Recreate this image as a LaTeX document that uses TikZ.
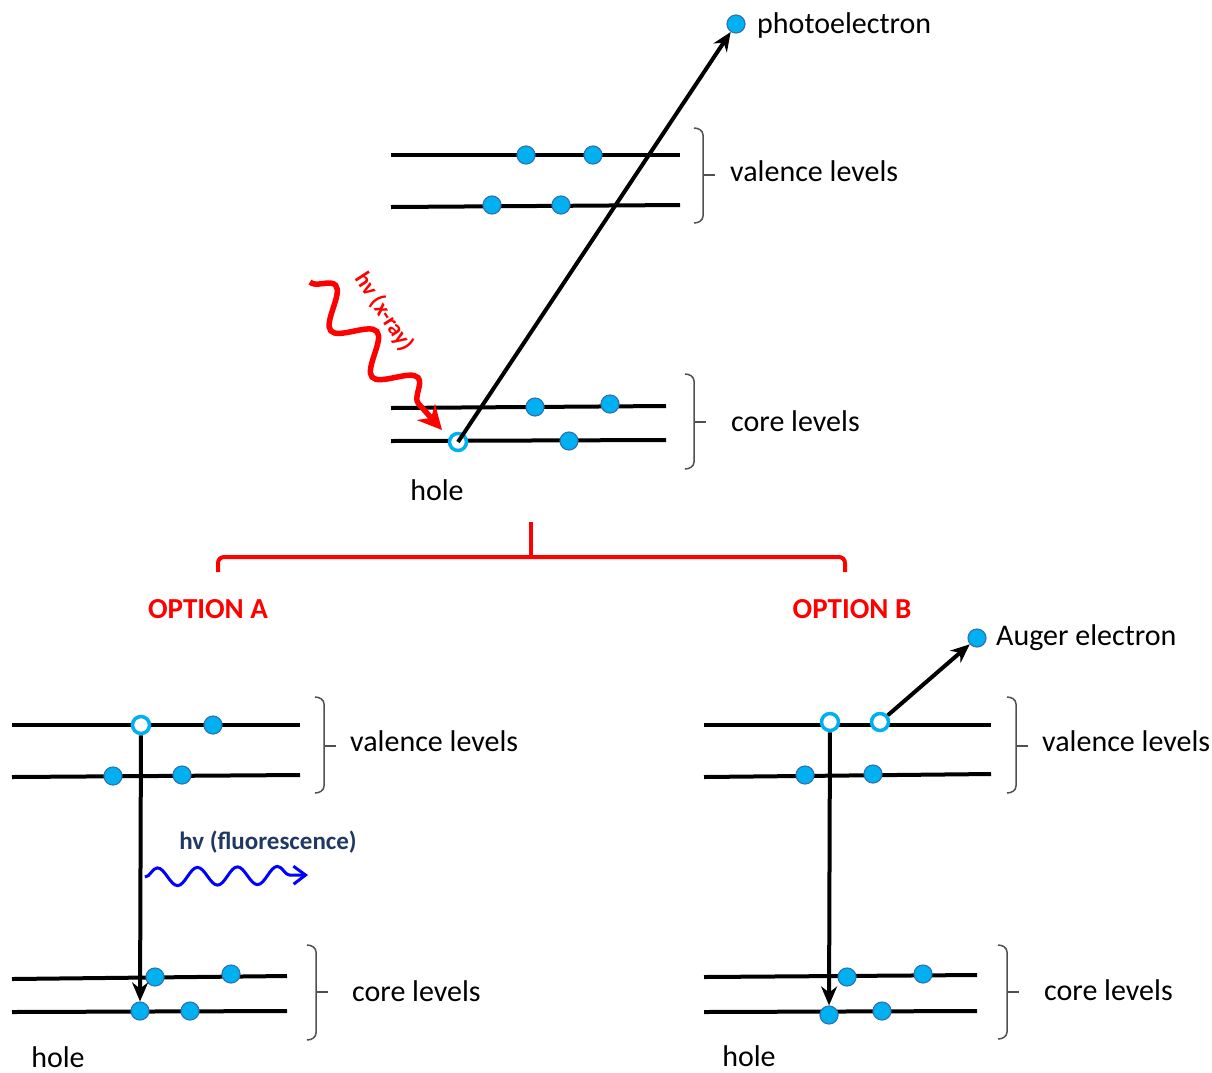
\documentclass[tikz,border=0pt]{standalone}
\usepackage{fontspec}
\setmainfont{Carlito}
\usetikzlibrary{arrows.meta,decorations.pathmorphing}
\definecolor{ecyan}{RGB}{0,176,240}
\definecolor{eedge}{RGB}{46,117,182}
\definecolor{navy}{RGB}{32,56,100}
\definecolor{fluoblue}{RGB}{0,0,255}
\definecolor{brkgray}{RGB}{80,80,80}
\tikzset{
  level/.style={line width=4pt},
  elec/.style={circle,fill=ecyan,draw=eedge,line width=1.2pt,minimum size=18pt,inner sep=0pt},
  holec/.style={circle,fill=white,draw=ecyan,line width=3.5pt,minimum size=17pt,inner sep=0pt},
  arr/.style={line width=4pt,-{Stealth[length=19pt,width=16pt]}},
  lbl/.style={font=\fontsize{30}{34}\selectfont,inner sep=0pt,anchor=west},
  brk/.style={line width=1.5pt,draw=brkgray},
  opt/.style={font=\fontsize{29}{33}\selectfont\bfseries,text=red,inner sep=0pt},
}
% bracket: x, top, mid, bottom
\newcommand\levelbrk[4]{%
  \draw[brk] (#1-9,#2) to[out=0,in=90] (#1,#2+7) -- (#1,#4-7) to[out=-90,in=0] (#1-9,#4);
  \draw[brk] (#1,#3) -- (#1+12,#3);}
\begin{document}
\begin{tikzpicture}[x=1pt,y=-1pt]
\useasboundingbox (0,0) rectangle (1212,1072);
% ---------- top diagram ----------
\draw[level] (391,155) coordinate (tv1a) -- (680,155) coordinate (tv1b);
\draw[level] (391,207) coordinate (tv2a) -- (680,205) coordinate (tv2b);
\draw[level] (391,408) coordinate (tc1a) -- (666,406) coordinate (tc1b);
\draw[level] (391,441) coordinate (tc2a) -- (666,440) coordinate (tc2b);
\node[elec] (te1) at (526,155) {};
\node[elec] (te2) at (593,155) {};
\node[elec] (te3) at (492,205) {};
\node[elec] (te4) at (561,205) {};
\node[elec] (te5) at (535,407) {};
\node[elec] (te6) at (610,404) {};
\node[elec] (te7) at (569,441) {};
\node[holec] (th) at (458,442) {};
\node[elec] (pe) at (736,24) {};
\draw[arr] (th.center) -- (pe);
\node[lbl] (pelbl) at (757,25) {photoelectron};
\levelbrk{703}{128}{175}{223}
\node[lbl] (tvlbl) at (730,171) {valence levels};
\levelbrk{694}{374}{422}{469}
\node[lbl] (tclbl) at (731,421) {core levels};
\node[lbl,anchor=base] (tholelbl) at (437,500) {hole};
% x-ray
\coordinate (xs) at (310,282);
\coordinate (xe) at (442,430);
\draw[red,line width=5.5pt,decorate,decoration={snake,segment length=62pt,amplitude=17pt,post length=24pt},-{Stealth[length=24pt,width=24pt]}] (xs) -- (xe);
\node[font=\fontsize{23}{27}\selectfont\bfseries,text=red,rotate=-57,inner sep=0pt] (xlbl) at (384,312) {hv (x-ray)};
% red bracket
\coordinate (bl) at (218,572); \coordinate (br) at (845,572); \coordinate (bm) at (531,522);
\draw[red,line width=4pt,rounded corners=6pt] (bl) -- (218,557) -- (845,557) -- (br);
\draw[red,line width=4pt] (bm) -- (531,557);
\node[opt] (optA) at (208,609) {OPTION A};
\node[opt] (optB) at (852,609) {OPTION B};
% ---------- option A ----------
\draw[level] (12,725) coordinate (av1a) -- (300,725) coordinate (av1b);
\draw[level] (12,777) coordinate (av2a) -- (300,775) coordinate (av2b);
\draw[level] (12,979) coordinate (ac1a) -- (287,976) coordinate (ac1b);
\draw[level] (12,1012) coordinate (ac2a) -- (287,1011) coordinate (ac2b);
\node[holec] (ah) at (141,725) {};
\node[elec] (ae1) at (213,725) {};
\node[elec] (ae2) at (113,776) {};
\node[elec] (ae3) at (182,775) {};
\node[elec] (ae4) at (155,977) {};
\node[elec] (ae5) at (231,974) {};
\node[elec] (ae6) at (140,1011) {};
\node[elec] (ae7) at (190,1011) {};
\draw[arr] (ah) -- (ae6);
\coordinate (ws) at (145,877); \coordinate (we) at (308,875);
\draw[fluoblue,line width=3pt,decorate,decoration={snake,segment length=40pt,amplitude=9pt,post length=14pt},-{Straight Barb[length=12pt,width=18pt]}] (ws) -- (we);
\node[font=\fontsize{25}{29}\selectfont\bfseries,text=navy,inner sep=0pt] (flbl) at (268,842) {hv (fluorescence)};
\levelbrk{324}{697}{746}{793}
\node[lbl] (avlbl) at (350,741) {valence levels};
\levelbrk{316}{945}{992}{1040}
\node[lbl] (aclbl) at (352,991) {core levels};
\node[lbl,anchor=base] (aholelbl) at (58,1067) {hole};
% ---------- option B ----------
\draw[level] (704,725) coordinate (bv1a) -- (991,725) coordinate (bv1b);
\draw[level] (704,777) coordinate (bv2a) -- (991,774) coordinate (bv2b);
\draw[level] (704,977) coordinate (bc1a) -- (977,975) coordinate (bc1b);
\draw[level] (704,1012) coordinate (bc2a) -- (977,1011) coordinate (bc2b);
\node[holec] (bh1) at (830,722) {};
\node[holec] (bh2) at (880,722) {};
\node[elec] (be1) at (805,775) {};
\node[elec] (be2) at (873,774) {};
\node[elec] (be3) at (847,977) {};
\node[elec] (be4) at (923,974) {};
\node[elec] (be5) at (829,1015) {};
\node[elec] (be6) at (882,1011) {};
\node[elec] (auger) at (977,638) {};
\draw[arr] (bh1) -- (be5);
\draw[arr] (bh2) -- (auger);
\node[lbl] (auglbl) at (996,638) {Auger electron};
\levelbrk{1016}{697}{746}{793}
\node[lbl] (bvlbl) at (1042,741) {valence levels};
\levelbrk{1007}{945}{992}{1039}
\node[lbl] (bclbl) at (1044,990) {core levels};
\node[lbl,anchor=base] (bholelbl) at (749,1066) {hole};
\end{tikzpicture}
\end{document}
